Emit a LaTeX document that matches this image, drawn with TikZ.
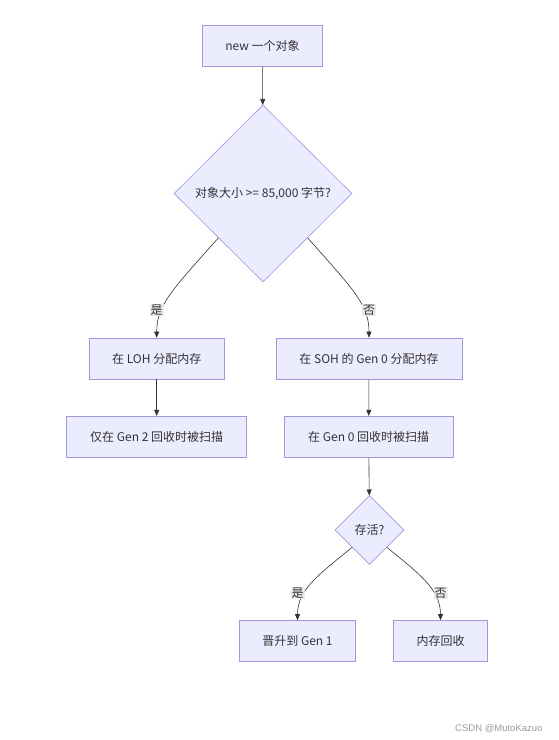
\documentclass[tikz,border=0pt]{standalone}
\usepackage{fontspec}
\setmainfont{Noto Sans CJK SC}
\newfontfamily\wmfont{Liberation Sans}
\usetikzlibrary{shapes.geometric,arrows.meta}
\definecolor{boxfill}{HTML}{ECECFF}
\definecolor{boxdraw}{HTML}{A596DC}
\definecolor{linec}{HTML}{333333}
\definecolor{lblbg}{HTML}{E8E8E8}
\begin{document}
\begin{tikzpicture}[x=1pt,y=-1pt,
  every node/.style={text=linec, font=\fontsize{12}{14}\selectfont},
  proc/.style={draw=boxdraw, fill=boxfill, rectangle, inner sep=0pt, minimum height=41pt, line width=0.6pt},
  decision/.style={draw=boxdraw, fill=boxfill, diamond, aspect=1, inner sep=0pt, line width=0.6pt},
  flow/.style={draw=linec, line width=0.6pt, -{Triangle[length=6pt,width=5pt]}},
  lbl/.style={fill=lblbg, fill opacity=0.9, text opacity=1, inner sep=1pt}]
\useasboundingbox (0,0) rectangle (559,740);
\node[proc, minimum width=120pt] (new) at (262.5,46) {new 一个对象};
\node[decision, minimum width=178pt, minimum height=177pt] (size) at (263,193.5) {对象大小 >= 85,000 字节?};
\node[proc, minimum width=135pt] (loh) at (156.7,358.5) {在 LOH 分配内存};
\node[proc, minimum width=186pt] (soh) at (369,358.5) {在 SOH 的 Gen 0 分配内存};
\node[proc, minimum width=180pt] (g2) at (156.7,436.7) {仅在 Gen 2 回收时被扫描};
\node[proc, minimum width=169pt] (g0) at (368.7,436.7) {在 Gen 0 回收时被扫描};
\node[decision, minimum width=69pt, minimum height=69pt] (alive) at (369.5,530) {存活?};
\node[proc, minimum width=116pt] (promo) at (297.5,641) {晋升到 Gen 1};
\node[proc, minimum width=94pt] (free) at (440.5,641) {内存回收};

\draw[flow] (new) -- (size);
\draw[flow] (size.south west) .. controls (172,290) and (156.7,305) .. (loh.north);
\draw[flow] (size.south east) .. controls (354,290) and (369,305) .. (soh.north);
\draw[flow] (loh) -- (g2);
\draw[flow] (soh) -- (g0);
\draw[flow] (g0) -- (alive);
\draw[flow] (alive.south west) .. controls (318,575) and (297.5,590) .. (promo.north);
\draw[flow] (alive.south east) .. controls (421,575) and (440.5,590) .. (free.north);

\node[lbl] (yes1) at (156.5,310) {是};
\node[lbl] (no1) at (369,310) {否};
\node[lbl] (yes2) at (297.5,593) {是};
\node[lbl] (no2) at (440.5,593) {否};

\node[anchor=east, font=\wmfont\fontsize{9.5}{11}\selectfont, text=black!40] (wm) at (546,729) {CSDN @MutoKazuo};
\end{tikzpicture}
\end{document}
